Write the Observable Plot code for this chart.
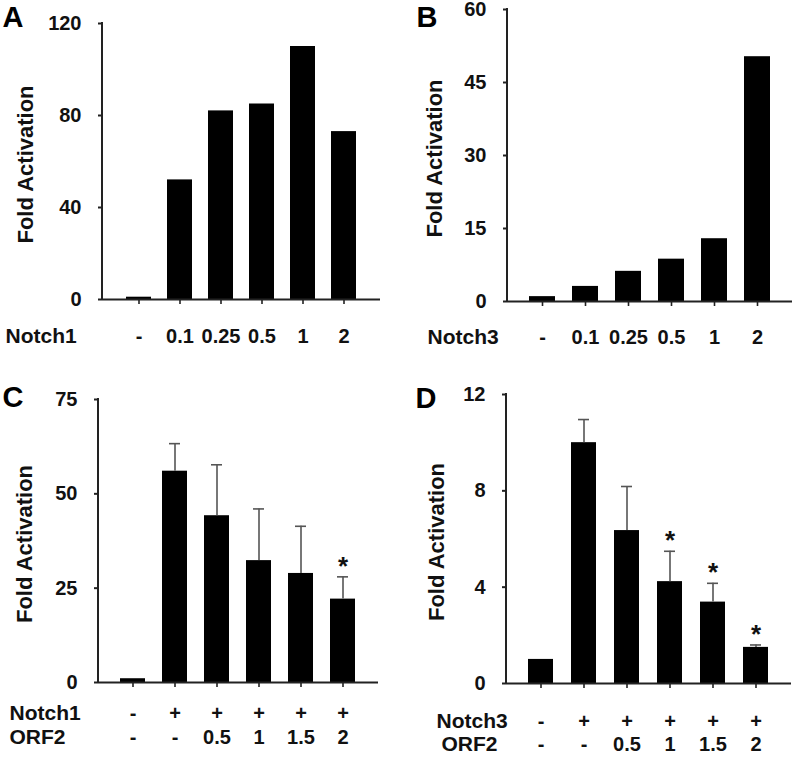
<!DOCTYPE html>
<html>
<head>
<meta charset="utf-8">
<script src="https://cdn.jsdelivr.net/npm/d3@7"></script>
<script src="https://cdn.jsdelivr.net/npm/@observablehq/plot@0.6"></script>
<style>
  body { margin: 0; background: #fff; }
  #wrap { position: relative; width: 800px; height: 760px; background: #fff; overflow: hidden; }
  .panel { position: absolute; width: 400px; height: 380px; }
</style>
</head>
<body>
<div id="wrap">
  <div class="panel" id="pA" style="left:0;top:0"></div>
  <div class="panel" id="pB" style="left:400px;top:0"></div>
  <div class="panel" id="pC" style="left:0;top:380px"></div>
  <div class="panel" id="pD" style="left:400px;top:380px"></div>
</div>
<script>
// ---- Data ----
const panelLetters = ["A", "B", "C", "D"];
const yLabel = "Fold Activation";

// Panel A: Notch1 dose
const rowA = "Notch1";
const labelsA = ["-", "0.1", "0.25", "0.5", "1", "2"];
const valuesA = [1, 52, 82, 85, 110, 73];
const ticksA = [0, 40, 80, 120];

// Panel B: Notch3 dose
const rowB = "Notch3";
const labelsB = ["-", "0.1", "0.25", "0.5", "1", "2"];
const valuesB = [1, 3.1, 6.2, 8.7, 12.9, 50.3];
const ticksB = [0, 15, 30, 45, 60];

// Panel C: Notch1 + ORF2
const rowsC = ["Notch1", "ORF2"];
const notchC = ["-", "+", "+", "+", "+", "+"];
const orfC = ["-", "-", "0.5", "1", "1.5", "2"];
const valuesC = [1, 56, 44.2, 32.3, 28.9, 22.1];
const errorsC = [0, 7.3, 13.5, 13.7, 12.5, 5.9];
const starsC = [false, false, false, false, false, true];
const ticksC = [0, 25, 50, 75];

// Panel D: Notch3 + ORF2
const rowsD = ["Notch3", "ORF2"];
const notchD = ["-", "+", "+", "+", "+", "+"];
const orfD = ["-", "-", "0.5", "1", "1.5", "2"];
const valuesD = [1, 10, 6.35, 4.23, 3.38, 1.5];
const errorsD = [0, 0.96, 1.83, 1.26, 0.78, 0.1];
const starsD = [false, false, false, true, true, true];
const ticksD = [0, 4, 8, 12];

// ---- Helpers ----
const FONT = "'Liberation Sans', Arial, Helvetica, sans-serif";
const INK = "#111";

// vertical axis line drawn from the y scale along the frame's left edge
function yAxisLine(yMax) {
  return (index, scales, values, dims) => {
    const x = dims.marginLeft;
    const line = d3.create("svg:line")
      .attr("x1", x).attr("x2", x)
      .attr("y1", scales.y(yMax) - 1).attr("y2", scales.y(0) + 1)
      .attr("stroke", "#222").attr("stroke-width", 2);
    return line.node();
  };
}

function panel(cfg) {
  const n = cfg.values.length;
  const yMax = cfg.ticks[cfg.ticks.length - 1];
  const rows = cfg.values.map((v, i) => ({
    i, v,
    e: cfg.errors ? cfg.errors[i] : 0,
    top: v + (cfg.errors ? cfg.errors[i] : 0),
    star: cfg.stars ? cfg.stars[i] : false
  }));
  const idx = d3.range(n);
  const m = cfg.margin;
  const marks = [
    Plot.barY(rows, {x: "i", y: "v", fill: "#000"}),
  ];
  if (cfg.errors) {
    const eb = rows.filter(d => d.e > 0);
    marks.push(Plot.ruleX(eb, {x: "i", y1: "v", y2: "top", stroke: "#555", strokeWidth: 1.6}));
    marks.push(Plot.tickY(eb, {x: "i", y: "top", stroke: "#555", strokeWidth: 1.6, insetLeft: 7, insetRight: 7}));
    marks.push(Plot.text(rows.filter(d => d.star), {
      x: "i", y: "top", text: () => "*", lineAnchor: "bottom", dy: -2,
      fontSize: 26, fontWeight: "bold", fill: INK
    }));
  }
  marks.push(
    Plot.ruleY([0], {stroke: "#222", strokeWidth: 2}),
    yAxisLine(yMax),
    Plot.axisY({
      ticks: cfg.ticks, tickSize: 4, tickPadding: 17,
      stroke: "#222", strokeWidth: 2, label: null, tickFormat: d => String(d),
      fontSize: 20
    }),
    Plot.axisX({tickSize: 5, tickFormat: () => "", label: null, stroke: "#222", strokeWidth: 1.6})
  );
  // category label rows
  cfg.labelRows.forEach((r) => {
    marks.push(Plot.text(idx, {
      x: d => d, text: d => r.labels[d], frameAnchor: "bottom",
      lineAnchor: "bottom", dy: r.dy, fontSize: 20, fontWeight: "bold", fill: INK,
      letterSpacing: "0.3px"
    }));
    marks.push(Plot.text([r.name], {
      frameAnchor: "bottom-left", textAnchor: "start", lineAnchor: "bottom",
      dx: r.nameX - m.left, dy: r.dy, fontSize: 21, fontWeight: "bold", fill: INK,
      letterSpacing: "1.2px"
    }));
  });
  // y label
  marks.push(Plot.text([yLabel], {
    frameAnchor: "left", rotate: -90, lineAnchor: "middle", textAnchor: "middle",
    dx: cfg.yLabelX - m.left, dy: 3, fontSize: 22, fontWeight: "bold", fill: INK,
    letterSpacing: "1px"
  }));
  // panel letter
  marks.push(Plot.text([cfg.letter], {
    frameAnchor: "top-left", textAnchor: "start", lineAnchor: "bottom",
    dx: cfg.letterPos[0] - m.left, dy: cfg.letterPos[1] - m.top,
    fontSize: 29, fontWeight: "bold", fill: "#000"
  }));

  return Plot.plot({
    width: 400, height: 380,
    marginLeft: m.left, marginRight: m.right, marginTop: m.top, marginBottom: m.bottom,
    style: {fontFamily: FONT, fontSize: "20px", fontWeight: "bold", color: INK, background: "#fff", overflow: "visible"},
    x: {domain: idx, paddingInner: cfg.padIn, paddingOuter: cfg.padOut, axis: null},
    y: {domain: [0, yMax], axis: null},
    marks
  });
}

document.getElementById("pA").append(panel({
  letter: panelLetters[0], letterPos: [2, 26],
  values: valuesA, ticks: ticksA,
  margin: {left: 102, right: 20, top: 23, bottom: 81},
  padIn: 0.38, padOut: 0.52, yLabelX: 25,
  labelRows: [{name: rowA, labels: labelsA, dy: 43, nameX: 5}]
}));

document.getElementById("pB").append(panel({
  letter: panelLetters[1], letterPos: [16, 26],
  values: valuesB, ticks: ticksB,
  margin: {left: 107, right: 8, top: 9, bottom: 79},
  padIn: 0.39, padOut: 0.45, yLabelX: 34,
  labelRows: [{name: rowB, labels: labelsB, dy: 42, nameX: 27}]
}));

document.getElementById("pC").append(panel({
  letter: panelLetters[2], letterPos: [2, 26],
  values: valuesC, errors: errorsC, stars: starsC, ticks: ticksC,
  margin: {left: 98, right: 22, top: 19, bottom: 78},
  padIn: 0.395, padOut: 0.49, yLabelX: 24,
  labelRows: [
    {name: rowsC[0], labels: notchC, dy: 37, nameX: 9},
    {name: rowsC[1], labels: orfC, dy: 61, nameX: 9}
  ]
}));

document.getElementById("pD").append(panel({
  letter: panelLetters[3], letterPos: [15, 27],
  values: valuesD, errors: errorsD, stars: starsD, ticks: ticksD,
  margin: {left: 106, right: 9, top: 14, bottom: 77},
  padIn: 0.41, padOut: 0.455, yLabelX: 36,
  labelRows: [
    {name: rowsD[0], labels: notchD, dy: 44, nameX: 36},
    {name: rowsD[1], labels: orfD, dy: 67, nameX: 41}
  ]
}));
</script>
</body>
</html>
